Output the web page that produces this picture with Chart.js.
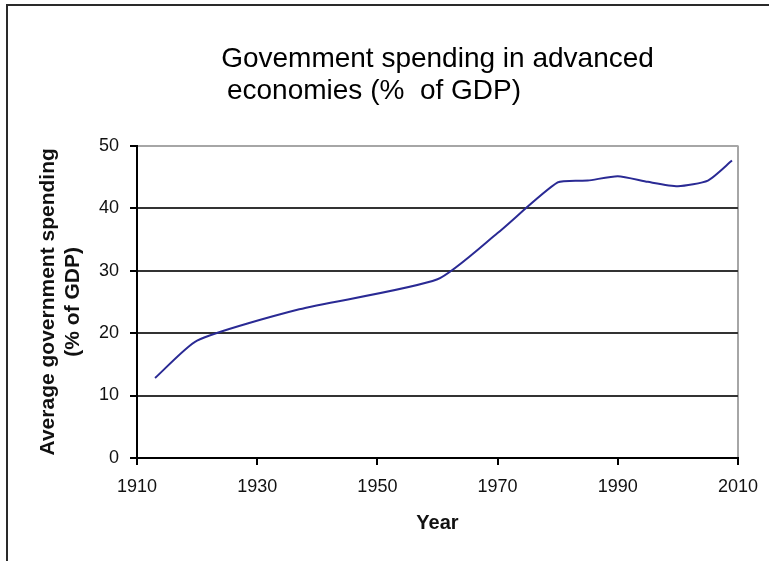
<!DOCTYPE html>
<html>
<head>
<meta charset="utf-8">
<script src="https://cdn.jsdelivr.net/npm/chart.js@4.4.0/dist/chart.umd.min.js"></script>
<style>
  html, body { margin: 0; padding: 0; background: #fff; overflow: hidden; }
  #wrap { position: relative; width: 769px; height: 561px; }
  #frame { position: absolute; left: 6px; top: 4px; width: 820px; height: 620px; border: 2px solid #2a2a2a; box-sizing: border-box; }
  canvas { position: absolute; left: 0; top: 0; }
</style>
</head>
<body>
<div id="wrap">
  <div id="frame"></div>
  <canvas id="chart" width="769" height="561"></canvas>
</div>
<script>
// values
const years = [1913, 1920, 1937, 1960, 1970, 1980, 1985, 1990, 1995, 2000, 2005, 2009]
const spending = [12.8, 18.8, 23.8, 28.6, 36.0, 44.1, 44.4, 45.1, 44.2, 43.5, 44.4, 47.6]
const yearTicks = [1910, 1930, 1950, 1970, 1990, 2010]
const pctTicks = [0, 10, 20, 30, 40, 50]

const font = "'Liberation Sans', Arial, sans-serif"

// eslint-disable-next-line no-unused-vars
const lineChart = new Chart(document.getElementById('chart'), {
  type: 'line',
  data: {
    datasets: [
      {
        label: 'Average government spending',
        data: years.map((y, i) => ({ x: y, y: spending[i] })),
        borderColor: '#2a2a94',
        borderWidth: 2,
        pointRadius: 0,
        tension: 0.2,
        fill: false,
      },
    ],
  },
  options: {
    responsive: false,
    animation: false,
    layout: { padding: { left: 10, right: 31, top: 0, bottom: 0 } },
    plugins: {
      legend: { display: false },
      tooltip: { enabled: false },
      title: {
        display: true,
        text: 'Govemment spending in advanced',
        fullSize: false,
        color: '#000',
        font: { family: font, size: 28, weight: 'normal', lineHeight: 1.1 },
        padding: { top: 44, bottom: 1 },
      },
      subtitle: {
        display: true,
        text: 'economies (%  of GDP)',
        fullSize: true,
        color: '#000',
        font: { family: font, size: 28, weight: 'normal', lineHeight: 1.1 },
        padding: { top: 0, bottom: 39 },
      },
    },
    scales: {
      x: {
        type: 'linear',
        min: 1910,
        max: 2010,
        afterBuildTicks: s => { s.ticks = yearTicks.map(v => ({ value: v })) },
        afterFit: s => { s.height = 103 },
        ticks: {
          color: '#111',
          font: { family: font, size: 18 },
          padding: 11,
          maxRotation: 0,
          callback: v => String(v),
        },
        grid: {
          color: c => (c.tick && c.tick.value === 2010 ? '#a6a6a6' : 'transparent'),
          lineWidth: 2,
          tickColor: '#000',
          tickLength: 7,
        },
        border: { color: '#000', width: 2 },
        title: {
          display: true,
          text: 'Year',
          color: '#111',
          font: { family: font, size: 20, weight: 'bold' },
          padding: { top: 0, bottom: 26 },
        },
      },
      y: {
        min: 0,
        max: 50,
        afterBuildTicks: s => { s.ticks = pctTicks.map(v => ({ value: v })) },
        afterFit: s => { s.width = 127 },
        ticks: {
          color: '#111',
          font: { family: font, size: 18 },
          padding: 11,
        },
        grid: {
          color: c => {
            if (!c.tick) return 'transparent'
            if (c.tick.value === 50) return '#a6a6a6'
            if (c.tick.value === 0) return 'transparent'
            return '#333'
          },
          lineWidth: 2,
          tickColor: '#000',
          tickLength: 7,
        },
        border: { color: '#000', width: 2 },
        title: {
          display: true,
          text: ['Average government spending', '(% of GDP)'],
          color: '#111',
          font: { family: font, size: 21, weight: 'bold', lineHeight: '25px' },
          padding: { top: 26, bottom: 0 },
        },
      },
    },
  },
})
</script>
</body>
</html>
